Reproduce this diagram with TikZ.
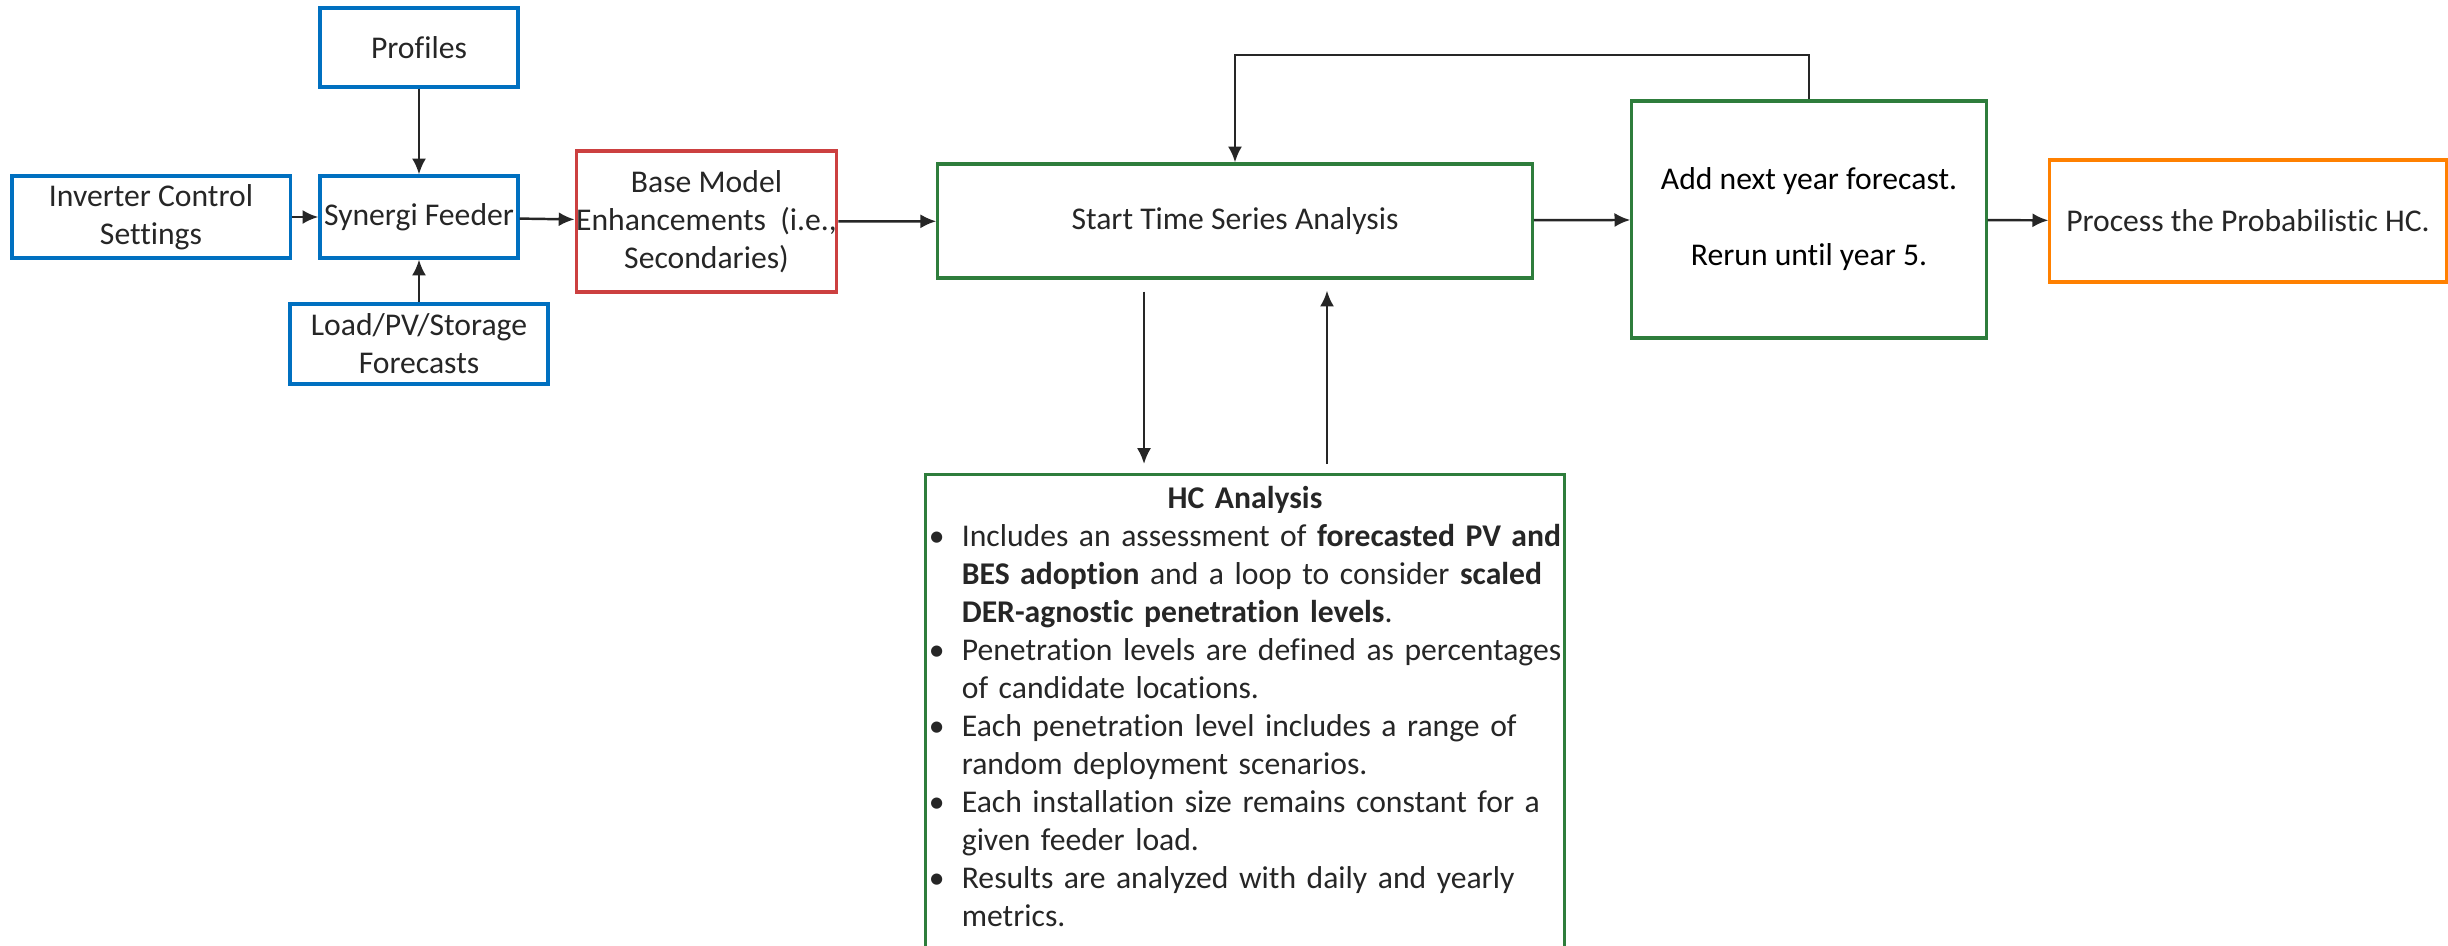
\documentclass[tikz,border=0pt]{standalone}
\usepackage{xcolor}
\usepackage{fontspec}
\setmainfont{Carlito}[Ligatures=NoCommon]
\usepackage{tikz}
\usetikzlibrary{arrows.meta}
\definecolor{boxblue}{RGB}{0,112,192}
\definecolor{boxred}{RGB}{204,64,64}
\definecolor{boxgreen}{RGB}{46,125,60}
\definecolor{boxorange}{RGB}{255,128,0}
\definecolor{txtgray}{RGB}{38,38,38}
\newcommand{\hclabel}[1]{#1\hfil}

\begin{document}
\begin{tikzpicture}[x=0.01cm, y=-0.01cm,
    box/.style={draw, line width=0.9pt, align=center, inner sep=0pt, text=txtgray, font=\fontsize{9}{10.8}\selectfont},
    bluebox/.style={box, draw=boxblue},
    redbox/.style={box, draw=boxred},
    greenbox/.style={box, draw=boxgreen},
    orangebox/.style={box, draw=boxorange},
    arr/.style={line width=0.7pt, draw=txtgray, ->, >={Latex[length=4.5pt,width=4pt]}}]
    \clip (0,0) rectangle (2448,945);
    \node[bluebox, minimum width=2.78cm, minimum height=0.82cm] (inv) at (151,217) {Inverter Control\\Settings};
    \node[bluebox, minimum width=1.98cm, minimum height=0.79cm] (prof) at (419,47.5) {Profiles};
    \node[bluebox, minimum width=1.98cm, minimum height=0.82cm] (syn) at (419,217) {Synergi Feeder};
    \node[bluebox, minimum width=2.58cm, minimum height=0.80cm] (load) at (419,344) {Load/PV/Storage\\Forecasts};
    \node[redbox, minimum width=2.29cm, minimum height=1.41cm] (base) at (706.5,221.5) {Base Model\\Enhancements~ (i.e.,\\Secondaries)};
    \node[greenbox, minimum width=5.94cm, minimum height=1.14cm] (start) at (1235,221) {Start Time Series Analysis};
    \node[greenbox, minimum width=3.54cm, minimum height=2.37cm, text=black] (add) at (1809,219.5) {Add next year forecast.\\[10.8pt]Rerun until year 5.};
    \node[orangebox, minimum width=3.96cm, minimum height=1.22cm] (proc) at (2248,221) {Process the Probabilistic HC.};
    \node[greenbox, anchor=north, text width=6.32cm, align=left, inner xsep=0.03cm, inner ysep=0.12cm] (hc) at (1245,473) {%
        {\centering\bfseries HC Analysis\par}
        \begin{list}{\textbullet}{\setlength{\leftmargin}{0.33cm}\setlength{\labelwidth}{0.33cm}\setlength{\labelsep}{0pt}%
            \setlength{\itemsep}{0pt}\setlength{\parsep}{0pt}\setlength{\topsep}{0pt}\setlength{\partopsep}{0pt}%
            \let\makelabel\hclabel}
        \item Includes an assessment of \textbf{forecasted PV and}\newline \textbf{BES adoption} and a loop to consider \textbf{scaled}\newline \textbf{DER-agnostic penetration levels}.
        \item Penetration levels are defined as percentages\newline of candidate locations.
        \item Each penetration level includes a range of\newline random deployment scenarios.
        \item Each installation size remains constant for a\newline given feeder load.
        \item Results are analyzed with daily and yearly\newline metrics.
        \end{list}
        \rule{0pt}{1cm}};
    \coordinate (looptop) at (1520,55);
    \coordinate (dnx) at (1144,0);
    \coordinate (upx) at (1327,0);
    \draw[arr] (inv) -- (syn);
    \draw[arr] (prof) -- (syn);
    \draw[arr] (load) -- (syn);
    \draw[arr] (syn) -- (base);
    \draw[arr] (base) -- (start);
    \draw[arr] (start) -- (add);
    \draw[arr] (add) -- (proc);
    \draw[arr] (add.north) |- (looptop) -| (start.north);
    \draw[arr, shorten <=0.12cm, shorten >=0.09cm] (start.south -| dnx) -- (hc.north -| dnx);
    \draw[arr, shorten <=0.09cm, shorten >=0.11cm] (hc.north -| upx) -- (start.south -| upx);
\end{tikzpicture}
\end{document}
